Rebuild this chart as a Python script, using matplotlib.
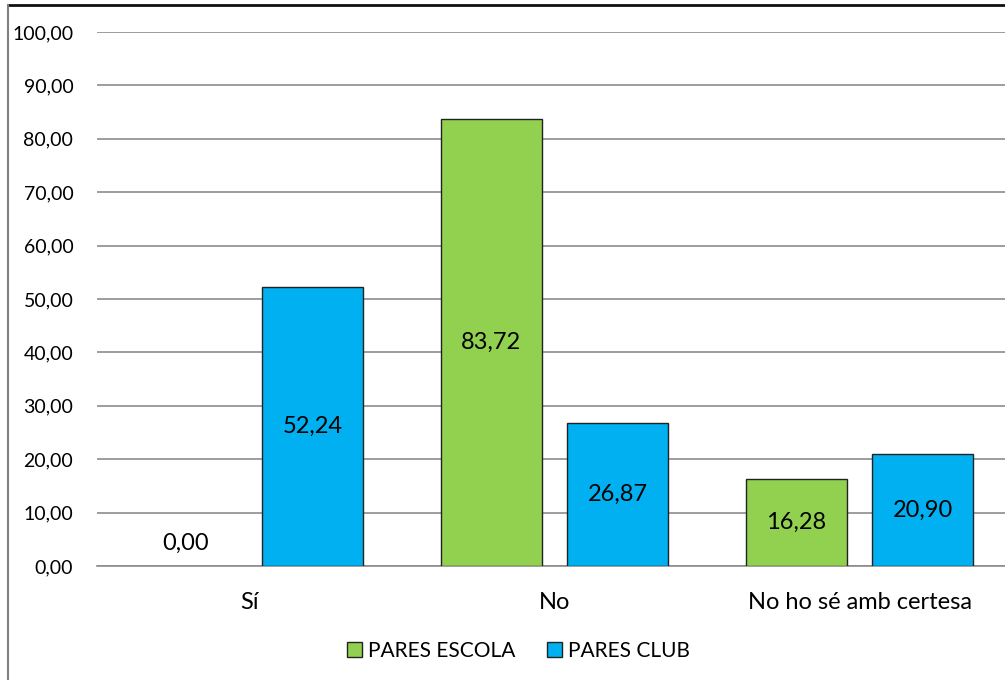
import numpy as np
import matplotlib
matplotlib.use("Agg")
import matplotlib.pyplot as plt
from matplotlib.lines import Line2D
from matplotlib.patches import Patch

categories = ["Sí", "No", "No ho sé amb certesa"]
escola = [0.00, 83.72, 16.28]
club = [52.24, 26.87, 20.90]
series_names = ["PARES ESCOLA", "PARES CLUB"]
yticks = [0, 10, 20, 30, 40, 50, 60, 70, 80, 90, 100]

green = "#92D050"
blue = "#00B0F0"
grid_col = "#8C8C8C"

plt.rcParams["font.family"] = ["Lato", "DejaVu Sans"]

fig = plt.figure(figsize=(10.05, 6.8), dpi=100)
ax = fig.add_axes([0.0965, 0.1676, 0.9105, 0.7854])

x = np.arange(len(categories))
width = 0.331
off = 0.208

# zero-height bars get no outline (Excel draws nothing for them)
lw1 = [0 if v == 0 else 1 for v in escola]
lw2 = [0 if v == 0 else 1 for v in club]
bars1 = ax.bar(x - off, escola, width, color=green, edgecolor="#222222", linewidth=lw1, zorder=3)
bars2 = ax.bar(x + off, club, width, color=blue, edgecolor="#222222", linewidth=lw2, zorder=3)

def fmt(v):
    return f"{v:.2f}".replace(".", ",")

for bars, vals in [(bars1, escola), (bars2, club)]:
    for b, v in zip(bars, vals):
        cx = b.get_x() + b.get_width() / 2
        if v == 0:
            ax.annotate(fmt(v), (cx, 0), xytext=(0, 9), textcoords="offset points",
                        ha="center", va="bottom", fontsize=17, zorder=4)
        else:
            ax.text(cx, v / 2, fmt(v), ha="center", va="center", fontsize=17, zorder=4)

ax.set_xlim(-0.5, 2.5)
ax.set_ylim(0, 100)
ax.set_yticks(yticks)
ax.set_yticklabels([fmt(t) for t in yticks], fontsize=14)
ax.set_xticks(x)
ax.set_xticklabels(categories, fontsize=17)
ax.tick_params(axis="y", length=0, pad=17)
ax.tick_params(axis="x", length=0, pad=19)
ax.yaxis.grid(True, color=grid_col, linewidth=1.2, zorder=0)
for s in ["top", "right", "left"]:
    ax.spines[s].set_visible(False)
ax.spines["bottom"].set_color(grid_col)
ax.spines["bottom"].set_linewidth(1.2)

handles = [Patch(facecolor=green, edgecolor="#222222"), Patch(facecolor=blue, edgecolor="#222222")]
fig.legend(handles, series_names, loc="center", bbox_to_anchor=(0.516, 0.043), ncol=2,
           frameon=False, fontsize=15, handlelength=0.7, handleheight=0.7,
           handletextpad=0.3, columnspacing=1.5)

# frame edges visible in the screenshot
fig.add_artist(Line2D([8 / 1005, 1], [1 - 5 / 680, 1 - 5 / 680], color="#111111", linewidth=2))
fig.add_artist(Line2D([8 / 1005, 8 / 1005], [0, 1 - 5 / 680], color="#808080", linewidth=1.5))

fig.savefig("out.png", dpi=100)
